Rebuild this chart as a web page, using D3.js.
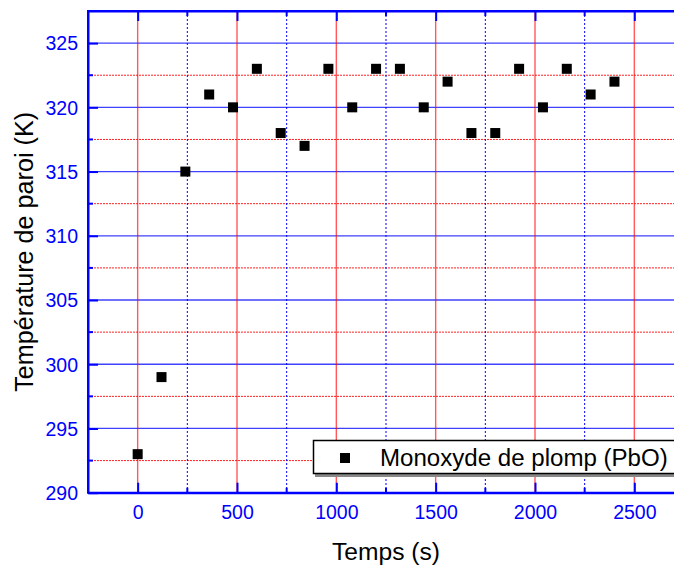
<!DOCTYPE html>
<html>
<head>
<meta charset="utf-8">
<script src="https://cdn.jsdelivr.net/npm/d3@7"></script>
<style>
  html, body { margin: 0; padding: 0; background: #fff; }
  svg { display: block; }
</style>
</head>
<body>
<svg id="chart" width="674" height="568"></svg>
<script>
// Wall temperature measured over time (lead monoxide coating)
const times = [0, 120, 240, 360, 480, 600, 720, 840, 960, 1080, 1200, 1320, 1440, 1560, 1680, 1800, 1920, 2040, 2160, 2280, 2400];
const temps = [293, 299, 315, 321, 320, 323, 318, 317, 323, 320, 323, 323, 320, 322, 318, 318, 323, 320, 323, 321, 322];
const xTicks = [0, 500, 1000, 1500, 2000, 2500];
const xMinorTicks = [250, 750, 1250, 1750, 2250];
const yTicks = [290, 295, 300, 305, 310, 315, 320, 325];
const yMinorTicks = [292.5, 297.5, 302.5, 307.5, 312.5, 317.5, 322.5];
const seriesName = "Monoxyde de plomp (PbO)";
const xTitle = "Temps (s)";
const yTitle = "Température de paroi (K)";

const FONT = "Liberation Sans, Arial, Helvetica, sans-serif";
const svg = d3.select("#chart");
const plotL = 88, plotR = 684, plotT = 11, plotB = 492.7;

const x = d3.scaleLinear().domain([-250, 2750]).range([plotL, plotR]);
const y = d3.scaleLinear().domain([290, 327.5]).range([plotB, plotT]);

const blue = "#0000ff";

// scale a text's font size so that it spans the wanted width
function fitText(sel, baseSize, width) {
  sel.attr("font-size", baseSize);
  const w = sel.node().getComputedTextLength();
  if (w > 0) sel.attr("font-size", baseSize * width / w);
  return sel;
}

// grid: minor lines first
svg.append("g").selectAll("line").data(yMinorTicks).join("line")
  .attr("x1", plotL).attr("x2", plotR).attr("y1", d => y(d)).attr("y2", d => y(d))
  .attr("stroke", "#ff2020").attr("stroke-width", 1).attr("stroke-dasharray", "2,1");

svg.append("g").selectAll("line").data(xMinorTicks).join("line")
  .attr("x1", d => x(d)).attr("x2", d => x(d)).attr("y1", plotT).attr("y2", plotB)
  .attr("stroke", blue).attr("stroke-width", 1).attr("stroke-dasharray", "2,2");

// grid: major lines
svg.append("g").selectAll("line").data(yTicks.filter(v => v > 290)).join("line")
  .attr("x1", plotL).attr("x2", plotR).attr("y1", d => y(d)).attr("y2", d => y(d))
  .attr("stroke", blue).attr("stroke-opacity", 0.75).attr("stroke-width", 1.3);

svg.append("g").selectAll("line").data(xTicks).join("line")
  .attr("x1", d => x(d)).attr("x2", d => x(d)).attr("y1", plotT).attr("y2", plotB)
  .attr("stroke", "#ff0000").attr("stroke-opacity", 0.65).attr("stroke-width", 1.4);

// axes (ticks point inward)
const fmt = d3.format("d");
const xAxisB = d3.axisBottom(x).tickValues(xTicks).tickFormat(fmt).tickSizeInner(-10).tickSizeOuter(0).tickPadding(12);
const gxb = svg.append("g").attr("transform", `translate(0,${plotB})`).call(xAxisB);
const xAxisT = d3.axisTop(x).tickValues(xTicks).tickFormat("").tickSizeInner(-10).tickSizeOuter(0);
const gxt = svg.append("g").attr("transform", `translate(0,${plotT})`).call(xAxisT);
const yAxisL = d3.axisLeft(y).tickValues(yTicks).tickFormat(fmt).tickSizeInner(-10).tickSizeOuter(0).tickPadding(10);
const gyl = svg.append("g").attr("transform", `translate(${plotL},0)`).call(yAxisL);

// minor ticks
svg.append("g").selectAll("line").data(xMinorTicks).join("line")
  .attr("x1", d => x(d)).attr("x2", d => x(d)).attr("y1", plotB).attr("y2", plotB - 5)
  .attr("stroke", blue).attr("stroke-width", 2);
svg.append("g").selectAll("line").data(xMinorTicks).join("line")
  .attr("x1", d => x(d)).attr("x2", d => x(d)).attr("y1", plotT).attr("y2", plotT + 5)
  .attr("stroke", blue).attr("stroke-width", 2);
svg.append("g").selectAll("line").data(yMinorTicks).join("line")
  .attr("x1", plotL).attr("x2", plotL + 5).attr("y1", d => y(d)).attr("y2", d => y(d))
  .attr("stroke", blue).attr("stroke-width", 2);

[gxb, gxt, gyl].forEach(g => {
  g.attr("font-family", FONT);
  g.select(".domain").attr("stroke", blue).attr("stroke-width", 2);
  g.selectAll(".tick line").attr("stroke", blue).attr("stroke-width", 2);
  g.selectAll(".tick text").attr("fill", blue).attr("font-size", 19.5).attr("font-family", FONT);
});
gyl.selectAll(".tick text").attr("dy", "0.35em");

// frame lines
svg.append("line").attr("x1", plotL).attr("x2", plotR).attr("y1", plotT).attr("y2", plotT)
  .attr("stroke", blue).attr("stroke-width", 2);
svg.append("line").attr("x1", plotL).attr("x2", plotR).attr("y1", plotB).attr("y2", plotB)
  .attr("stroke", blue).attr("stroke-width", 2);
svg.append("line").attr("x1", plotL).attr("x2", plotL).attr("y1", plotT - 1).attr("y2", plotB + 1)
  .attr("stroke", blue).attr("stroke-width", 2);

// data points
const ms = 10;
svg.append("g").selectAll("rect").data(times.map((t, i) => [t, temps[i]])).join("rect")
  .attr("x", d => x(d[0]) - ms / 2).attr("y", d => y(d[1]) - ms / 2)
  .attr("width", ms).attr("height", ms).attr("fill", "#000");

// legend
const lg = svg.append("g");
lg.append("rect").attr("x", 315).attr("y", 443).attr("width", 400).attr("height", 34).attr("fill", "#888");
lg.append("rect").attr("x", 313.5).attr("y", 440.5).attr("width", 400).attr("height", 33)
  .attr("fill", "#fff").attr("stroke", "#000").attr("stroke-width", 1.5);
lg.append("rect").attr("x", 340).attr("y", 453).attr("width", ms).attr("height", ms).attr("fill", "#000");
const legText = lg.append("text").attr("x", 380).attr("y", 465.5).attr("font-family", FONT)
  .attr("fill", "#000").text(seriesName);
fitText(legText, 24, 288);

// axis titles
const xt = svg.append("text").attr("x", (plotL + plotR) / 2).attr("y", 560).attr("text-anchor", "middle")
  .attr("font-family", FONT).attr("fill", "#000").text(xTitle);
fitText(xt, 24, 108);
const yt = svg.append("text").attr("transform", `translate(33,${(plotT + plotB) / 2}) rotate(-90)`)
  .attr("text-anchor", "middle").attr("font-family", FONT)
  .attr("fill", "#000").text(yTitle);
fitText(yt, 24, 280);
</script>
</body>
</html>
